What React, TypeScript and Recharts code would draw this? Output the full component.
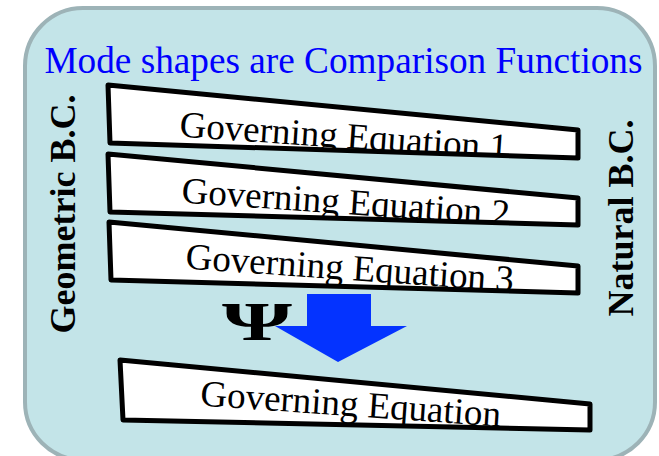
import { ComposedChart, XAxis, YAxis, Scatter } from 'recharts'

const WIDTH = 659
const HEIGHT = 456

// diagram space = pixel grid of the reference (y grows downwards)
const framePoints = [
    { x: 25, y: 8 },
    { x: 655, y: 460 },
]

const titleText = 'Mode shapes are Comparison Functions'
const titleAnchor = [{ x: 343.5, y: 73 }]

const sideLabels = [
    { x: 75, y: 214, text: 'Geometric B.C.' },
    { x: 633, y: 218, text: 'Natural B.C.' },
]

const equationNames = [
    'Governing Equation 1',
    'Governing Equation 2',
    'Governing Equation 3',
    'Governing Equation',
]

// four corners (tl, tr, br, bl) + text anchor
const box1 = [
    { x: 108, y: 85 },
    { x: 578, y: 130 },
    { x: 578, y: 158 },
    { x: 110, y: 143 },
    { x: 343, y: 148 },
]
const box2 = [
    { x: 108, y: 154 },
    { x: 578, y: 198 },
    { x: 578, y: 225 },
    { x: 110, y: 212 },
    { x: 345, y: 214 },
]
const box3 = [
    { x: 109, y: 222 },
    { x: 578, y: 266 },
    { x: 578, y: 293 },
    { x: 111, y: 280 },
    { x: 349, y: 280 },
]
const box4 = [
    { x: 120, y: 360 },
    { x: 590, y: 404 },
    { x: 590, y: 430 },
    { x: 123, y: 420 },
    { x: 350, y: 416 },
]
const equationBoxes = [box1, box2, box3, box4]

const arrowPoints = [
    { x: 307, y: 294 },
    { x: 371, y: 294 },
    { x: 371, y: 326 },
    { x: 407, y: 326 },
    { x: 338, y: 362 },
    { x: 275, y: 326 },
    { x: 307, y: 326 },
]

const psiAnchor = [{ x: 257, y: 340 }]

const serif = '"Liberation Serif", "Times New Roman", serif'

type Pt = { x: number; y: number }

const noSymbol = () => <g />

const toPoly = (pts: Pt[]) => pts.map((p) => `${p.x},${p.y}`).join(' ')

function renderFrame(props: any) {
    const [a, b] = props.points as Pt[]
    return (
        <rect
            x={a.x}
            y={a.y}
            width={b.x - a.x}
            height={b.y - a.y}
            rx={58}
            ry={58}
            fill="#c3e4e8"
            stroke="#9db3b7"
            strokeWidth={4}
        />
    )
}

function makeEquationBox(name: string, id: string) {
    return (props: any) => {
        const pts = props.points as Pt[]
        const poly = toPoly(pts.slice(0, 4))
        const anchor = pts[4]
        return (
            <g>
                <defs>
                    <clipPath id={id}>
                        <polygon points={poly} />
                    </clipPath>
                </defs>
                <polygon points={poly} fill="#ffffff" />
                <g clipPath={`url(#${id})`}>
                    <text
                        x={anchor.x}
                        y={anchor.y}
                        textAnchor="middle"
                        transform={`rotate(4 ${anchor.x} ${anchor.y})`}
                        fontFamily={serif}
                        fontSize={37}
                        fill="#000000"
                    >
                        {name}
                    </text>
                </g>
                <polygon
                    points={poly}
                    fill="none"
                    stroke="#000000"
                    strokeWidth={5}
                    strokeLinejoin="round"
                />
            </g>
        )
    }
}

function renderArrow(props: any) {
    return <polygon points={toPoly(props.points)} fill="#0433ff" />
}

function renderTitle(props: any) {
    return (
        <text
            x={props.cx}
            y={props.cy}
            textAnchor="middle"
            fontFamily={serif}
            fontSize={37}
            fill="#0000ff"
            textLength={598}
            lengthAdjust="spacingAndGlyphs"
        >
            {titleText}
        </text>
    )
}

function renderSideLabel(props: any) {
    return (
        <text
            x={props.cx}
            y={props.cy}
            textAnchor="middle"
            transform={`rotate(-90 ${props.cx} ${props.cy})`}
            fontFamily={serif}
            fontWeight="bold"
            fontSize={36}
            fill="#000000"
        >
            {props.payload.text}
        </text>
    )
}

function renderPsi(props: any) {
    return (
        <text
            x={props.cx}
            y={props.cy}
            textAnchor="middle"
            fontFamily={serif}
            fontWeight="bold"
            fontSize={54}
            fill="#000000"
            textLength={70}
            lengthAdjust="spacingAndGlyphs"
        >
            Ψ
        </text>
    )
}

function App() {
    return (
        <div style={{ position: 'absolute', left: 0, top: 0, width: WIDTH, height: HEIGHT, background: '#ffffff' }}>
            <ComposedChart
                width={WIDTH}
                height={HEIGHT}
                margin={{ top: 0, right: 0, bottom: 0, left: 0 }}
            >
                <XAxis type="number" dataKey="x" domain={[0, WIDTH]} allowDataOverflow hide />
                <YAxis type="number" dataKey="y" domain={[0, HEIGHT]} allowDataOverflow reversed hide />
                <Scatter
                    data={framePoints}
                    line={renderFrame}
                    lineType="joint"
                    shape={noSymbol}
                    isAnimationActive={false}
                />
                <Scatter data={titleAnchor} shape={renderTitle} isAnimationActive={false} />
                <Scatter data={sideLabels} shape={renderSideLabel} isAnimationActive={false} />
                {equationBoxes.map((box, i) => (
                    <Scatter
                        key={equationNames[i]}
                        data={box}
                        line={makeEquationBox(equationNames[i], `eq-clip-${i}`)}
                        lineType="joint"
                        shape={noSymbol}
                        isAnimationActive={false}
                    />
                ))}
                <Scatter
                    data={arrowPoints}
                    line={renderArrow}
                    lineType="joint"
                    shape={noSymbol}
                    isAnimationActive={false}
                />
                <Scatter data={psiAnchor} shape={renderPsi} isAnimationActive={false} />
            </ComposedChart>
        </div>
    )
}

export default App
